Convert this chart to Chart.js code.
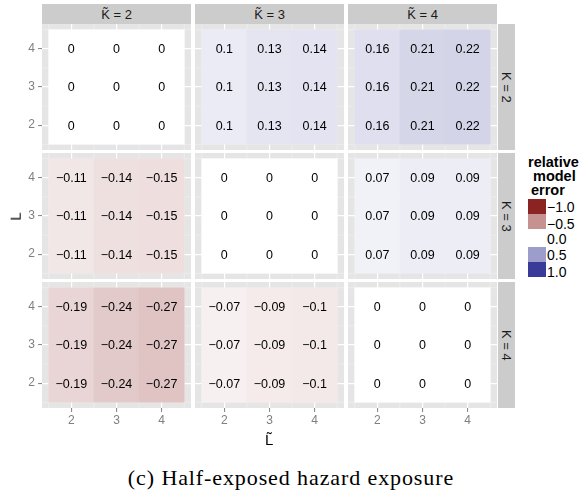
<!DOCTYPE html>
<html><head><meta charset="utf-8">
<script src="https://cdn.jsdelivr.net/npm/chart.js@4"></script>
<style>
html,body{margin:0;padding:0;background:#fff;}
#wrap{position:relative;width:582px;height:495px;overflow:hidden;background:#fff;font-family:'Liberation Sans',Arial,sans-serif;}
.strip{position:absolute;background:#CCCCCC;color:#1A1A1A;font-size:13px;display:flex;align-items:center;justify-content:center;white-space:nowrap;}
.vstrip{writing-mode:vertical-rl;}
.txt{position:absolute;white-space:nowrap;line-height:1;}
canvas{position:absolute;}
</style></head><body><div id="wrap"></div>
<script>
// ---------------- data ----------------
const Ltilde = [2, 3, 4];              // x within each panel
const Lvals  = [2, 3, 4];              // y within each panel
const xTickLabels = ['2', '3', '4'];
const yTickLabels = ['2', '3', '4'];
const Ktilde = [2, 3, 4];              // facet columns
const Kvals  = [2, 3, 4];              // facet rows
const minorBreaks = [1.5, 2.5, 3.5, 4.5];
// relative model error; rows = L (2,3,4), columns = L~ (2,3,4)
const err_K2_Kt2 = [[0, 0, 0], [0, 0, 0], [0, 0, 0]];
const err_K2_Kt3 = [[0.1, 0.13, 0.14], [0.1, 0.13, 0.14], [0.1, 0.13, 0.14]];
const err_K2_Kt4 = [[0.16, 0.21, 0.22], [0.16, 0.21, 0.22], [0.16, 0.21, 0.22]];
const err_K3_Kt2 = [[-0.11, -0.14, -0.15], [-0.11, -0.14, -0.15], [-0.11, -0.14, -0.15]];
const err_K3_Kt3 = [[0, 0, 0], [0, 0, 0], [0, 0, 0]];
const err_K3_Kt4 = [[0.07, 0.09, 0.09], [0.07, 0.09, 0.09], [0.07, 0.09, 0.09]];
const err_K4_Kt2 = [[-0.19, -0.24, -0.27], [-0.19, -0.24, -0.27], [-0.19, -0.24, -0.27]];
const err_K4_Kt3 = [[-0.07, -0.09, -0.1], [-0.07, -0.09, -0.1], [-0.07, -0.09, -0.1]];
const err_K4_Kt4 = [[0, 0, 0], [0, 0, 0], [0, 0, 0]];
const legendValues = [-1, -0.5, 0, 0.5, 1];
const legendLabels = ['\u22121.0', '\u22120.5', '0.0', '0.5', '1.0'];

const panelValues = [
  [err_K2_Kt2, err_K2_Kt3, err_K2_Kt4],
  [err_K3_Kt2, err_K3_Kt3, err_K3_Kt4],
  [err_K4_Kt2, err_K4_Kt3, err_K4_Kt4]
];

// ---------------- styling / layout ----------------
const LOW = [139, 35, 35], HIGH = [58, 58, 152];
function fill(v) {
  const t = Math.min(1, Math.abs(v));
  const e = v < 0 ? LOW : HIGH;
  const c = e.map(ch => Math.round(255 + (ch - 255) * t));
  return 'rgb(' + c.join(',') + ')';
}
const fmt = v => String(v).replace('-', '\u2212');

const PANEL_X = [42, 195, 348], PANEL_Y = [24, 153, 282];
const PW = 149, PH = 126, YAXIS_W = 42, XAXIS_H = 32;
const RANGE = [1.35, 4.65];
const wrap = document.getElementById('wrap');

function addDiv(cls, text, css) {
  const d = document.createElement('div');
  d.className = cls; d.textContent = text;
  Object.assign(d.style, css);
  wrap.appendChild(d);
  return d;
}

const panelBg = {
  id: 'panelBg',
  beforeDraw(chart) {
    const {ctx, chartArea: a, scales: {x, y}} = chart;
    ctx.save();
    ctx.fillStyle = '#E5E5E5';
    ctx.fillRect(a.left, a.top, a.right - a.left, a.bottom - a.top);
    ctx.strokeStyle = '#F2F2F2';
    ctx.lineWidth = 0.6;
    minorBreaks.forEach(b => {
      const px = x.getPixelForValue(b), py = y.getPixelForValue(b);
      ctx.beginPath(); ctx.moveTo(px, a.top); ctx.lineTo(px, a.bottom); ctx.stroke();
      ctx.beginPath(); ctx.moveTo(a.left, py); ctx.lineTo(a.right, py); ctx.stroke();
    });
    ctx.restore();
  }
};
const cellLabels = {
  id: 'cellLabels',
  afterDatasetsDraw(chart) {
    const {ctx, scales: {x, y}} = chart;
    ctx.save();
    ctx.font = '12.5px "Liberation Sans", Arial, sans-serif';
    ctx.fillStyle = '#000';
    ctx.textAlign = 'center';
    ctx.textBaseline = 'middle';
    chart.data.datasets.forEach(ds => ds.data.forEach(d => {
      ctx.fillText(fmt(d.v), x.getPixelForValue(d.x), y.getPixelForValue((d.y[0] + d.y[1]) / 2) + 1);
    }));
    ctx.restore();
  }
};

function scaleCfg(axisVals, labels, showAxis, isX) {
  return {
    type: 'linear', min: RANGE[0], max: RANGE[1], offset: false,
    afterBuildTicks: s => { s.ticks = axisVals.map(v => ({value: v})); },
    afterFit: s => {
      if (isX) s.height = showAxis ? XAXIS_H : 0; else s.width = showAxis ? YAXIS_W : 0;
      s.paddingTop = 0; s.paddingBottom = 0; s.paddingLeft = 0; s.paddingRight = 0;
    },
    grid: { offset: false, color: '#FFFFFF', lineWidth: 1.2, drawTicks: showAxis, tickLength: 4, tickColor: '#7F7F7F', tickWidth: 1 },
    border: { display: false },
    ticks: {
      display: showAxis, color: '#7F7F7F', padding: isX ? 1 : 3, autoSkip: false, maxRotation: 0,
      font: { family: '"Liberation Sans", Arial, sans-serif', size: 12 },
      callback: (v, i) => labels[i]
    }
  };
}

Kvals.forEach((K, r) => Ktilde.forEach((Kt, c) => {
  const vals = panelValues[r][c];
  const showY = c === 0, showX = r === Kvals.length - 1;
  const w = PW + (showY ? YAXIS_W : 0), h = PH + (showX ? XAXIS_H : 0);
  const cv = document.createElement('canvas');
  cv.width = w; cv.height = h;
  Object.assign(cv.style, {left: (PANEL_X[c] - (showY ? YAXIS_W : 0)) + 'px', top: PANEL_Y[r] + 'px', width: w + 'px', height: h + 'px'});
  wrap.appendChild(cv);
  new Chart(cv, {
    type: 'bar',
    data: {
      datasets: Lvals.map((L, i) => ({
        label: 'L = ' + L,
        data: Ltilde.map((lt, j) => ({x: lt, y: [L - 0.5, L + 0.5], v: vals[i][j]})),
        backgroundColor: ctx => fill(ctx.raw ? ctx.raw.v : 0),
        grouped: false, barPercentage: 1, categoryPercentage: 1, borderWidth: 0
      }))
    },
    options: {
      responsive: false, animation: false, devicePixelRatio: 1, events: [],
      layout: { padding: 0 },
      plugins: { legend: { display: false }, tooltip: { enabled: false } },
      scales: { x: scaleCfg(Ltilde, xTickLabels, showX, true), y: scaleCfg(Lvals, yTickLabels, showY, false) }
    },
    plugins: [panelBg, cellLabels]
  });
}));

// facet strips
Ktilde.forEach((Kt, c) => addDiv('strip', 'K\u0303 = ' + Kt, {left: PANEL_X[c] + 'px', top: '4px', width: PW + 'px', height: '20px'}));
Kvals.forEach((K, r) => addDiv('strip vstrip', 'K = ' + K, {left: '498px', top: PANEL_Y[r] + 'px', width: '17px', height: PH + 'px'}));

// axis titles
addDiv('txt', 'L', {left: '11px', top: '209px', fontSize: '15px', color: '#000', transform: 'rotate(-90deg)', transformOrigin: 'center'});
addDiv('txt', 'L\u0303', {left: '265px', top: '432px', fontSize: '15px', color: '#000'});

// legend
[['relative', 528, 155], ['model', 533, 169], ['error', 531, 183]].forEach(([t, x, y]) =>
  addDiv('txt', t, {left: x + 'px', top: y + 'px', fontSize: '14.5px', fontWeight: 'bold', color: '#000'}));
const keyTops = [199, 213.5, 228.5, 247, 262], keyH = [14.5, 15, 18.5, 15, 15];
const labCenters = [207, 223.5, 239, 255, 272];
legendValues.forEach((v, i) => {
  const k = document.createElement('div');
  Object.assign(k.style, {position: 'absolute', left: '528px', top: keyTops[i] + 'px', width: '18px', height: keyH[i] + 'px', background: fill(v)});
  wrap.appendChild(k);
  addDiv('txt', legendLabels[i], {left: '547px', top: (labCenters[i] - 7) + 'px', fontSize: '14px', color: '#000'});
});

// caption
addDiv('txt', '(c) Half-exposed hazard exposure', {left: '0px', width: '582px', textAlign: 'center', top: '467px', fontSize: '22px', letterSpacing: '0.9px', fontFamily: '"Liberation Serif", "Times New Roman", serif', color: '#000'});
</script></body></html>
